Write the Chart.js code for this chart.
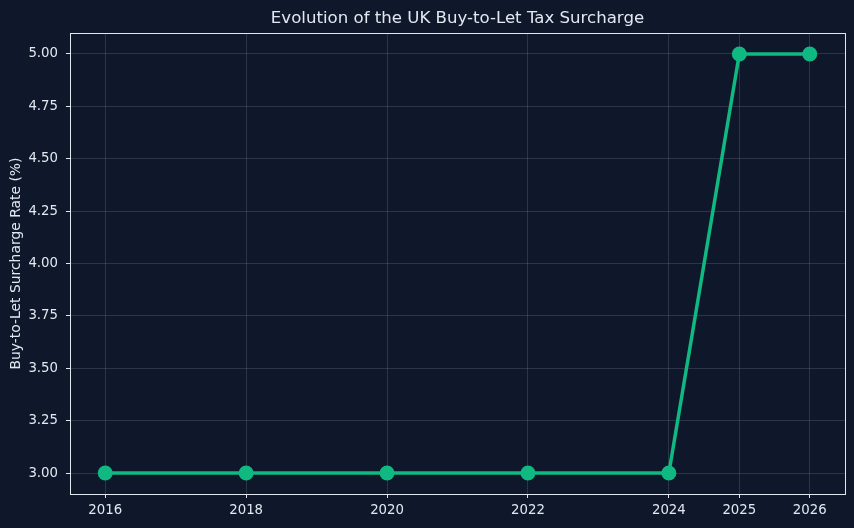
<!DOCTYPE html>
<html><head><meta charset="utf-8">
<script src="https://cdn.jsdelivr.net/npm/chart.js@4/dist/chart.umd.min.js"></script>
<style>html,body{margin:0;padding:0;background:#0f172a;}#wrap{width:854px;height:528px;}</style>
</head><body><div id="wrap"><canvas id="c" width="854" height="528"></canvas></div>
<script>
const years = [2016, 2018, 2020, 2022, 2024, 2025, 2026];
const surchargeRates = [3, 3, 3, 3, 3, 5, 5];
const xTickValues = [2016, 2018, 2020, 2022, 2024, 2025, 2026];
const yTickValues = [3.00, 3.25, 3.50, 3.75, 4.00, 4.25, 4.50, 4.75, 5.00];
const titleText = 'Evolution of the UK Buy-to-Let Tax Surcharge';
const yLabel = 'Buy-to-Let Surcharge Rate (%)';

const textColor = '#e2e8f0';
const gridColor = 'rgba(148,163,184,0.22)';
const font = 'DejaVu Sans';

const framePlugin = {
  id: 'frame',
  afterDraw(chart) {
    const {ctx, chartArea: a} = chart;
    ctx.save();
    ctx.strokeStyle = textColor;
    ctx.lineWidth = 1;
    ctx.strokeRect(Math.round(a.left) + 0.5, Math.round(a.top) + 0.5, Math.round(a.right - a.left), Math.round(a.bottom - a.top));
    ctx.fillStyle = textColor;
    ctx.font = '16.6px "' + font + '"';
    ctx.textAlign = 'center';
    ctx.textBaseline = 'middle';
    ctx.fillText(titleText, (a.left + a.right) / 2, 18.5);
    ctx.restore();
  }
};

new Chart(document.getElementById('c'), {
  type: 'line',
  data: {
    datasets: [{
      data: years.map((y, i) => ({x: y, y: surchargeRates[i]})),
      borderColor: '#10b981',
      backgroundColor: '#10b981',
      borderWidth: 3.5,
      pointRadius: 7.5,
      pointHoverRadius: 7.5,
      pointBorderWidth: 0,
      tension: 0
    }]
  },
  options: {
    responsive: false,
    animation: false,
    layout: {padding: {top: 33, right: 9, left: 0, bottom: 0}},
    plugins: {legend: {display: false}, title: {display: false}, tooltip: {enabled: false}},
    scales: {
      x: {
        type: 'linear',
        min: 2015.5,
        max: 2026.5,
        afterBuildTicks(s) { s.ticks = xTickValues.map(v => ({value: v})); },
        afterFit(s) { s.height = 34; },
        grid: {color: gridColor, tickColor: textColor, tickLength: 4, drawTicks: true},
        border: {display: false},
        ticks: {color: textColor, font: {family: font, size: 13.3}, padding: 5, maxRotation: 0, callback: v => String(v)}
      },
      y: {
        min: 2.9,
        max: 5.1,
        afterBuildTicks(s) { s.ticks = yTickValues.map(v => ({value: v})); },
        afterFit(s) { s.width = 70; },
        grid: {color: gridColor, tickColor: textColor, tickLength: 4, drawTicks: true},
        border: {display: false},
        title: {display: true, text: yLabel, color: textColor, font: {family: font, size: 13.9}, padding: {top: 8, bottom: 0}},
        ticks: {color: textColor, font: {family: font, size: 13.3}, padding: 8, callback: v => v.toFixed(2)}
      }
    }
  },
  plugins: [framePlugin]
});
</script></body></html>
